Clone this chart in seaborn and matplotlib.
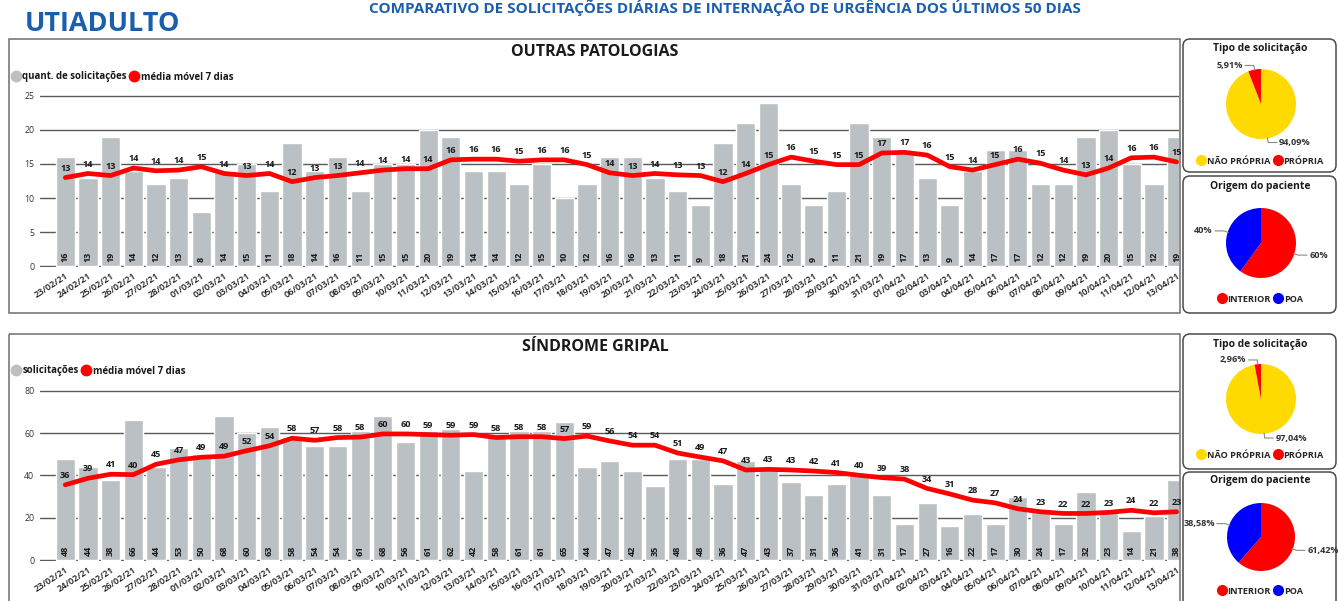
import numpy as np
import pandas as pd
import matplotlib
matplotlib.use("Agg")
import matplotlib.pyplot as plt
import seaborn as sns
from matplotlib.patches import FancyBboxPatch, Rectangle
from matplotlib.lines import Line2D

# ---------------- data ----------------
dates = ["23/02/21", "24/02/21", "25/02/21", "26/02/21", "27/02/21", "28/02/21",
         "01/03/21", "02/03/21", "03/03/21", "04/03/21", "05/03/21", "06/03/21",
         "07/03/21", "08/03/21", "09/03/21", "10/03/21", "11/03/21", "12/03/21",
         "13/03/21", "14/03/21", "15/03/21", "16/03/21", "17/03/21", "18/03/21",
         "19/03/21", "20/03/21", "21/03/21", "22/03/21", "23/03/21", "24/03/21",
         "25/03/21", "26/03/21", "27/03/21", "28/03/21", "29/03/21", "30/03/21",
         "31/03/21", "01/04/21", "02/04/21", "03/04/21", "04/04/21", "05/04/21",
         "06/04/21", "07/04/21", "08/04/21", "09/04/21", "10/04/21", "11/04/21",
         "12/04/21", "13/04/21"]

outras_qtd = [16, 13, 19, 14, 12, 13, 8, 14, 15, 11, 18, 14, 16, 11, 15, 15, 20, 19,
              14, 14, 12, 15, 10, 12, 16, 16, 13, 11, 9, 18, 21, 24, 12, 9, 11, 21,
              19, 17, 13, 9, 14, 17, 17, 12, 12, 19, 20, 15, 12, 19]
outras_mm = [13.0, 13.6, 13.3, 14.4, 14.0, 14.1, 14.6, 13.6, 13.3, 13.6, 12.4, 13.0,
             13.3, 13.7, 14.1, 14.3, 14.3, 15.6, 15.7, 15.7, 15.4, 15.6, 15.6, 14.9,
             13.7, 13.3, 13.6, 13.4, 13.3, 12.4, 13.6, 14.9, 16.0, 15.4, 14.9, 14.9,
             16.6, 16.7, 16.3, 14.6, 14.1, 14.9, 15.7, 15.1, 14.1, 13.4, 14.4, 15.9,
             16.0, 15.3]

sg_qtd = [48, 44, 38, 66, 44, 53, 50, 68, 60, 63, 58, 54, 54, 61, 68, 56, 61, 62,
          42, 58, 61, 61, 65, 44, 47, 42, 35, 48, 48, 36, 47, 43, 37, 31, 36, 41,
          31, 17, 27, 16, 22, 17, 30, 24, 17, 32, 23, 14, 21, 38]
sg_mm = [35.6, 38.7, 40.6, 40.4, 45.3, 47.4, 48.6, 49.1, 51.7, 54.0, 57.6, 56.6,
         57.9, 58.1, 59.6, 59.6, 59.3, 59.0, 59.3, 57.9, 58.3, 58.3, 57.4, 58.6,
         56.3, 54.3, 54.3, 50.6, 48.7, 46.9, 42.6, 42.9, 42.6, 42.1, 41.4, 40.1,
         39.0, 38.3, 33.9, 31.3, 28.4, 27.1, 24.3, 22.9, 22.1, 22.1, 22.6, 23.6,
         22.4, 22.9]

tipo_labels = ["NÃO PRÓPRIA", "PRÓPRIA"]
origem_labels = ["INTERIOR", "POA"]
outras_tipo = [94.09, 5.91]
outras_origem = [60, 40]
sg_tipo = [97.04, 2.96]
sg_origem = [61.42, 38.58]

# ---------------- style ----------------
sns.set_theme(style="white")
plt.rcParams['font.family'] = ['Open Sans', 'DejaVu Sans']

BAR = "#BAC0C3"
RED = "#FF0000"
YEL = "#FFDA00"
BLU = "#0000FF"
TBLUE = "#1B5EB0"
DARK = "#1a1a1a"

W, H = 1338, 601
fig = plt.figure(figsize=(W / 100, H / 100), dpi=100)
fig.patch.set_facecolor("white")


def fx(px):
    return px / W


def fy(py):
    return 1 - py / H


# overlay axes in pixel coordinates (y downward)
ov = fig.add_axes([0, 0, 1, 1])
ov.set_xlim(0, W)
ov.set_ylim(H, 0)
ov.axis("off")
ov.set_facecolor("none")

ov.text(25, 31, "UTIADULTO", fontsize=19.5, fontweight="bold", color=TBLUE,
        ha="left", va="baseline")
ov.text(725, 13.5, "COMPARATIVO DE SOLICITAÇÕES DIÁRIAS DE INTERNAÇÃO DE URGÊNCIA DOS ÚLTIMOS 50 DIAS",
        fontsize=11, fontweight="bold", color=TBLUE, ha="center", va="baseline")

# panel frames
for (y0, y1) in [(39, 313), (334, 606)]:
    ov.add_patch(Rectangle((9, y0), 1180 - 9, y1 - y0, fill=False, ec="#6e6e6e", lw=1.1))
for (y0, y1) in [(39, 172), (176, 313), (334, 469), (472, 608)]:
    ov.add_patch(FancyBboxPatch((1183, y0), 1336 - 1183, y1 - y0,
                                boxstyle="round,pad=0,rounding_size=7",
                                fill=False, ec="#4a4a4a", lw=1.1))

ov.text(595, 52, "OUTRAS PATOLOGIAS", fontsize=11.5, fontweight="bold", color=DARK,
        ha="center", va="center")
ov.text(595, 347, "SÍNDROME GRIPAL", fontsize=11.5, fontweight="bold", color=DARK,
        ha="center", va="center")

X0, X1 = 40, 1179
C0, STEP = 65.3, 22.68


def bar_chart(y_top, y_bot, qtd, mm, ymax, ystep, leg_label, leg_y):
    ax = fig.add_axes([fx(X0), fy(y_bot), (X1 - X0) / W, (y_bot - y_top) / H])
    ax.set_facecolor("none")
    df = pd.DataFrame({"data": dates, "qtd": qtd, "mm": mm, "pos": np.arange(len(dates))})
    sns.barplot(data=df, x="data", y="qtd", color=BAR, saturation=1, width=0.85,
                ax=ax, zorder=2)
    sns.lineplot(data=df, x="pos", y="mm", color=RED, lw=3.4, ax=ax, zorder=3)
    ax.set_xlim(-(C0 - X0) / STEP, (X1 - C0) / STEP)
    ax.set_ylim(-ymax * 0.004, ymax * 1.004)
    ax.set_yticks(np.arange(0, ymax + 0.1, ystep))
    ax.set_yticklabels([str(int(v)) for v in np.arange(0, ymax + 0.1, ystep)])
    ax.yaxis.grid(True, color="#5a5a5a", lw=1.0)
    ax.set_axisbelow(True)
    for s in ax.spines.values():
        s.set_visible(False)
    ax.set_xlabel("")
    ax.set_ylabel("")
    ax.set_xticks(np.arange(len(dates)))
    ax.set_xticklabels(dates, rotation=33, ha="right", rotation_mode="anchor",
                       fontsize=6.6, color="#111111", fontweight="semibold")
    ax.tick_params(axis="x", length=0, pad=3)
    ax.tick_params(axis="y", length=0, pad=4, labelsize=6.3, labelcolor="#333333")
    for i, v in enumerate(qtd):
        ax.annotate(str(v), (i, 0), xytext=(0, 3), textcoords="offset points",
                    rotation=90, ha="center", va="bottom", fontsize=6.5,
                    fontweight="bold", color=DARK, zorder=4)
    for i, v in enumerate(mm):
        ax.annotate(str(int(np.floor(v + 0.5))), (i, v), xytext=(0, 3.5),
                    textcoords="offset points", ha="center", va="bottom",
                    fontsize=6.6, fontweight="bold", color=DARK, zorder=5)
    handles = [Line2D([], [], ls="none", marker="o", ms=7.5, mfc=BAR, mec=BAR),
               Line2D([], [], ls="none", marker="o", ms=7.5, mfc=RED, mec=RED)]
    leg = ax.legend(handles, [leg_label, "média móvel 7 dias"], loc="center left",
                    bbox_to_anchor=(fx(11), fy(leg_y)), bbox_transform=fig.transFigure,
                    ncol=2, frameon=False, handletextpad=0.15, columnspacing=0.3,
                    handlelength=1.0, borderpad=0, borderaxespad=0,
                    prop={"size": 7, "weight": "bold"})
    for t in leg.get_texts():
        t.set_color(DARK)
    return ax


bar_chart(95, 267, outras_qtd, outras_mm, 25, 5, "quant. de solicitações", 77)
bar_chart(390, 561, sg_qtd, sg_mm, 80, 20, "solicitações", 371)


def fmt_pct(v):
    if float(v).is_integer():
        return f"{int(v)}%"
    return f"{v:.2f}".replace(".", ",") + "%"


def pie_chart(title, title_y, cy, vals, colors, labels, leg_y, cx=1261, r=35):
    ov.text(1260, title_y, title, fontsize=7.4, fontweight="bold", color=DARK,
            ha="center", va="center")
    size = 140
    ax = fig.add_axes([fx(cx - size / 2), fy(cy + size / 2), size / W, size / H])
    ax.pie(vals, colors=colors, startangle=90, counterclock=False, radius=1,
           wedgeprops=dict(lw=0))
    lim = size / 2 / r
    ax.set_xlim(-lim, lim)
    ax.set_ylim(-lim, lim)
    ax.set_aspect("equal")
    ax.axis("off")
    cum = 0.0
    for v in vals:
        th = np.deg2rad(90 - (cum + v / 2) * 3.6)
        cum += v
        ux, uy = np.cos(th), np.sin(th)
        side = 1 if ux >= 0 else -1
        ex, ey = 1.12 * ux, 1.12 * uy
        hx = ex + side * 0.25
        ax.plot([0.98 * ux, ex, hx], [0.98 * uy, ey, ey], color="#8a8a8a", lw=0.8,
                clip_on=False)
        ax.text(hx + side * 0.06, ey, fmt_pct(v), ha="left" if side > 0 else "right",
                va="center", fontsize=6.6, fontweight="bold", color="#333333")
    handles = [Line2D([], [], ls="none", marker="o", ms=7, mfc=c, mec=c) for c in colors]
    ax.legend(handles, labels, loc="center", bbox_to_anchor=(fx(1260), fy(leg_y)),
              bbox_transform=fig.transFigure, ncol=2, frameon=False,
              handletextpad=0.1, columnspacing=0.3, handlelength=1.0, borderpad=0,
              prop={"size": 6.6, "weight": "bold"})


pie_chart("Tipo de solicitação", 49, 104, outras_tipo, [YEL, RED], tipo_labels, 161)
pie_chart("Origem do paciente", 186, 243, outras_origem, [RED, BLU], origem_labels, 299)
pie_chart("Tipo de solicitação", 344, 399, sg_tipo, [YEL, RED], tipo_labels, 455)
pie_chart("Origem do paciente", 481, 537, sg_origem, [RED, BLU], origem_labels, 591, r=34)

fig.savefig("out.png", dpi=100, facecolor="white")
